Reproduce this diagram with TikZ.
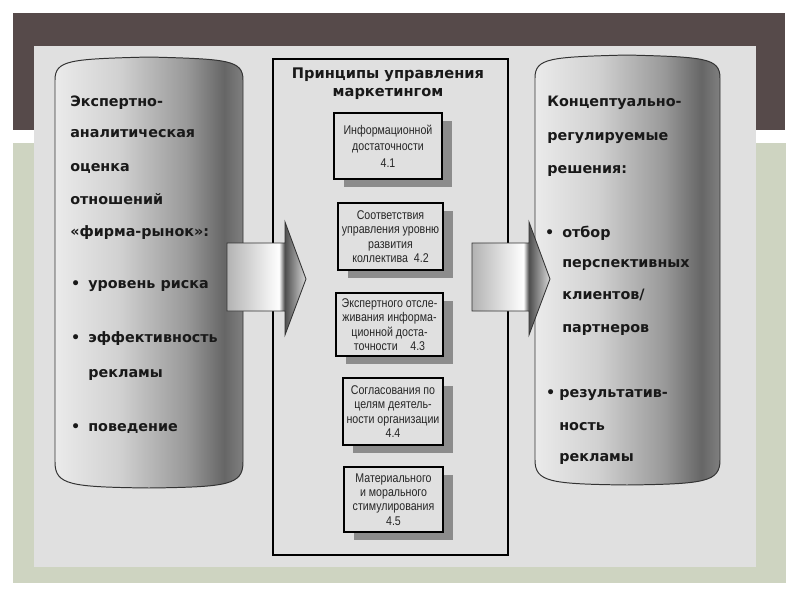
\documentclass[tikz,border=0pt]{standalone}
\usepackage{fontspec}
\setmainfont{DejaVu Sans}
\newfontfamily\narrowfont[FakeStretch=0.84]{Liberation Sans}
\usetikzlibrary{shadows}

\definecolor{bandbrown}{RGB}{86,74,74}
\definecolor{slidegreen}{RGB}{206,212,193}
\definecolor{scangray}{RGB}{224,224,224}
\pgfdeclarehorizontalshading{cylshade}{100bp}{color(0bp)=(black!8); color(25bp)=(black!8); color(42bp)=(black!18); color(60bp)=(black!40); color(70bp)=(black!60); color(75bp)=(black!50); color(100bp)=(black!50)}
\pgfdeclarehorizontalshading{arrshade}{100bp}{color(0bp)=(black!30); color(25bp)=(black!30); color(58bp)=(white); color(61.5bp)=(black!70); color(75bp)=(black!15); color(100bp)=(black!15)}

\tikzset{
  cyl/.style={draw=black!80,line width=0.7pt,shading=cylshade},
  blkarrow/.style={draw=black!80,line width=0.6pt,shading=arrshade},
  bigtext/.style={font=\bfseries\fontsize{10.2}{12}\selectfont,text=black!90,inner sep=0pt,anchor=base west},
  princ/.style={draw,line width=0.8pt,fill=scangray,align=center,inner sep=1pt,
    font=\narrowfont\fontsize{9}{10.2}\selectfont,text=black!85,
    drop shadow={shadow xshift=2.5mm,shadow yshift=-2mm,fill=black!45,opacity=1}}
}

\begin{document}
\begin{tikzpicture}[x=0.25mm,y=-0.25mm]
    \useasboundingbox (0,0) rectangle (800,600);
    \fill[white] (0,0) rectangle (800,600);
    \fill[bandbrown] (13,13) rectangle (785,130);
    \fill[slidegreen] (13,143) rectangle (786,583);
    \fill[scangray] (34,46) rectangle (756,567);

    \shadedraw[cyl] (55,80) .. controls (55,60) and (70,59) .. (149,57) .. controls (228,59) and (243,60) .. (243,80)
        -- (243,462) .. controls (243,485) and (228,487) .. (149,488) .. controls (70,487) and (55,485) .. (55,462) -- cycle;
    \shadedraw[cyl] (535,78) .. controls (535,58) and (550,57) .. (627,55) .. controls (705,57) and (720,58) .. (720,78)
        -- (720,460) .. controls (720,482) and (705,484) .. (627,485) .. controls (550,484) and (535,482) .. (535,460) -- cycle;

    \foreach \tx/\ty/\lbl [count=\i] in {70/106/Экспертно-, 70/137/аналитическая, 70/171/оценка, 70/204/отношений,
        70/236/«фирма-рынок»:, 88/288/{\llap{•\hspace{2mm}}уровень риска}, 88/342/{\llap{•\hspace{2mm}}эффективность},
        88/377/рекламы, 88/431/{\llap{•\hspace{2mm}}поведение}}
        \node[bigtext] (left\i) at (\tx,\ty) {\lbl};

    \foreach \tx/\ty/\lbl [count=\i] in {547/106/Концептуально-, 547/140/регулируемые, 547/173/решения:,
        562/237/{\llap{•\hspace{2mm}}отбор}, 562/267/перспективных, 562/299/{клиентов/}, 562/332/партнеров,
        559/397/{\llap{•\hspace{1mm}}результатив-}, 559/430/ность, 559/461/рекламы}
        \node[bigtext] (right\i) at (\tx,\ty) {\lbl};

    \node[draw,line width=0.8pt,minimum width=58.75mm,minimum height=124mm] (frame) at (390.5,307) {};
    \node[font=\bfseries\fontsize{10.4}{12.8}\selectfont,text=black!90,align=center] (title) at (388,84) {Принципы управления\\маркетингом};

    \node[princ,minimum width=27mm,minimum height=16.5mm,font=\narrowfont\fontsize{9}{11.8}\selectfont] (p1) at (388,146) {Информационной\\достаточности\\4.1};
    \node[princ,minimum width=26.25mm,minimum height=16.75mm] (p2) at (390.5,236.5) {Соответствия\\управления уровню\\развития\\коллектива\ \ 4.2};
    \node[princ,minimum width=26.75mm,minimum height=15.75mm] (p3) at (389.5,324.5) {Экспертного отсле-\\живания информа-\\ционной доста-\\точности\quad 4.3};
    \node[princ,minimum width=25mm,minimum height=16.75mm] (p4) at (393,411.5) {Согласования по\\целям деятель-\\ности организации\\4.4};
    \node[princ,minimum width=24.75mm,minimum height=16.25mm] (p5) at (393.5,499.5) {Материального\\и морального\\стимулирования\\4.5};

    \shadedraw[blkarrow] (227,243) -- (285,243) -- (285,222) -- (306,279) -- (285,335) -- (285,311) -- (227,311) -- cycle;
    \shadedraw[blkarrow] (472,243) -- (529,243) -- (529,222) -- (550,279) -- (529,335) -- (529,311) -- (472,311) -- cycle;
\end{tikzpicture}
\end{document}
